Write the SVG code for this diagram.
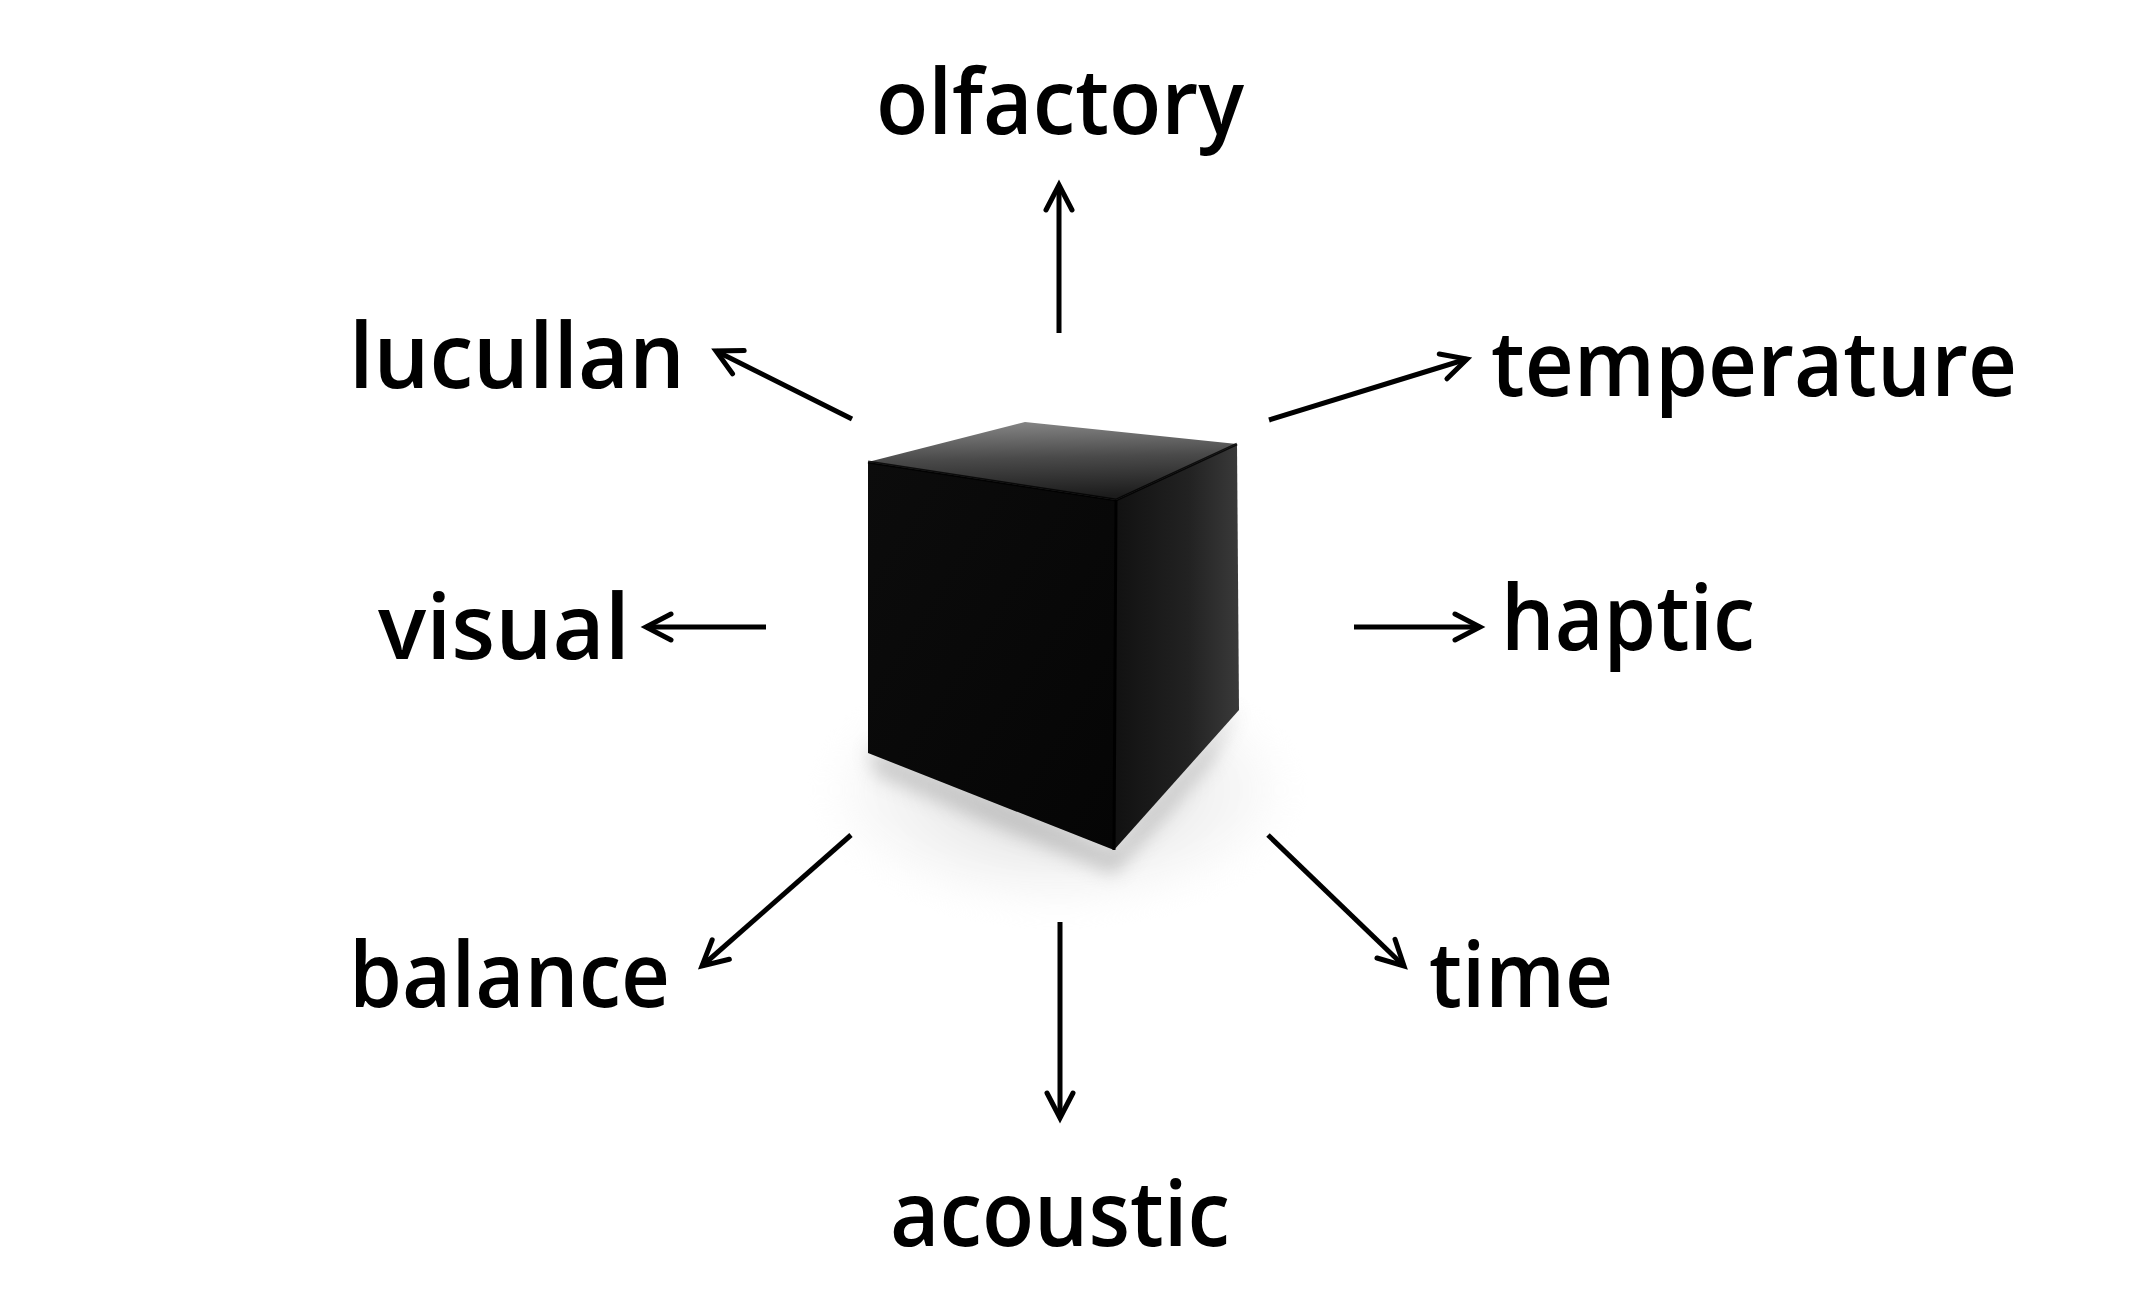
<svg xmlns="http://www.w3.org/2000/svg" width="2134" height="1304" viewBox="0 0 2134 1304">
<style>
.lbl{font-family:"Open Sans","Noto Sans","Liberation Sans",sans-serif;font-size:90px;font-weight:600;fill:#000;}
.arr{stroke:#000;stroke-width:5;fill:none;marker-end:url(#head);}
</style>
<defs>
<marker id="head" markerUnits="userSpaceOnUse" markerWidth="40" markerHeight="40" viewBox="-32 -20 40 40" refX="0" refY="0" orient="auto">
<path d="M-25,-13 L0,0 L-25,13" fill="none" stroke="#000" stroke-width="5" stroke-linejoin="miter" stroke-linecap="round"/>
</marker>
<radialGradient id="shadowG" cx="0.5" cy="0.5" r="0.5">
<stop offset="0" stop-color="#9a9a9a"/>
<stop offset="0.55" stop-color="#dcdcdc"/>
<stop offset="0.85" stop-color="#f5f5f5"/>
<stop offset="1" stop-color="#ffffff" stop-opacity="0"/>
</radialGradient>
<linearGradient id="topG" x1="0" y1="0" x2="0.1" y2="1">
<stop offset="0" stop-color="#8a8a8a"/>
<stop offset="0.5" stop-color="#4a4a4a"/>
<stop offset="1" stop-color="#1c1c1c"/>
</linearGradient>
<linearGradient id="frontG" x1="0" y1="0" x2="1" y2="1">
<stop offset="0" stop-color="#0c0c0c"/>
<stop offset="1" stop-color="#050505"/>
</linearGradient>
<linearGradient id="rightG" x1="0" y1="0" x2="1" y2="0">
<stop offset="0" stop-color="#111"/>
<stop offset="0.6" stop-color="#222"/>
<stop offset="1" stop-color="#3a3a3a"/>
</linearGradient>
<filter id="blur" x="-30%" y="-30%" width="160%" height="160%"><feGaussianBlur stdDeviation="14"/></filter>
<filter id="blur2" x="-30%" y="-30%" width="160%" height="160%"><feGaussianBlur stdDeviation="9"/></filter>
</defs>
<rect width="2134" height="1304" fill="#fff"/>

<g id="cube">
<ellipse cx="1058" cy="790" rx="250" ry="130" fill="url(#shadowG)" opacity="0.4" filter="url(#blur)"/>
<polygon points="868,745 1114,850 1239,705 1210,765 1114,875 875,775" fill="#999" opacity="0.45" filter="url(#blur2)"/>
<polygon points="868,462 1116,500 1114,850 868,753" fill="url(#frontG)"/>
<polygon points="1116,500 1237,444 1239,710 1114,850" fill="url(#rightG)"/>
<polygon points="868,462 1025,422 1237,444 1116,500" fill="url(#topG)"/>
<polyline points="868,462 1116,500 1237,444" fill="none" stroke="#000" stroke-width="3" opacity="0.8"/>
<line x1="1116" y1="500" x2="1114" y2="850" stroke="#000" stroke-width="3"/>
</g>

<g id="connectors">
<line class="arr" x1="1059" y1="333" x2="1059" y2="185"/>
<line class="arr" x1="852" y1="419" x2="716" y2="351"/>
<line class="arr" x1="1269" y1="420" x2="1467" y2="359"/>
<line class="arr" x1="766" y1="627" x2="646" y2="627"/>
<line class="arr" x1="1354" y1="627" x2="1480" y2="627"/>
<line class="arr" x1="851" y1="835" x2="702" y2="966"/>
<line class="arr" x1="1268" y1="835" x2="1404" y2="966"/>
<line class="arr" x1="1060" y1="922" x2="1060" y2="1118"/>
</g>

<g id="olfactory"><text class="lbl" x="876" y="134" textLength="368" lengthAdjust="spacingAndGlyphs">olfactory</text></g>
<g id="lucullan"><text class="lbl" x="349" y="388" textLength="336" lengthAdjust="spacingAndGlyphs">lucullan</text></g>
<g id="temperature"><text class="lbl" x="1491" y="396" textLength="526" lengthAdjust="spacingAndGlyphs">temperature</text></g>
<g id="visual"><text class="lbl" x="378" y="659" textLength="252" lengthAdjust="spacingAndGlyphs">visual</text></g>
<g id="haptic"><text class="lbl" x="1501" y="650" textLength="254" lengthAdjust="spacingAndGlyphs">haptic</text></g>
<g id="balance"><text class="lbl" x="349" y="1007" textLength="321" lengthAdjust="spacingAndGlyphs">balance</text></g>
<g id="time"><text class="lbl" x="1429" y="1007" textLength="184" lengthAdjust="spacingAndGlyphs">time</text></g>
<g id="acoustic"><text class="lbl" x="890" y="1246" textLength="340" lengthAdjust="spacingAndGlyphs">acoustic</text></g>
</svg>
